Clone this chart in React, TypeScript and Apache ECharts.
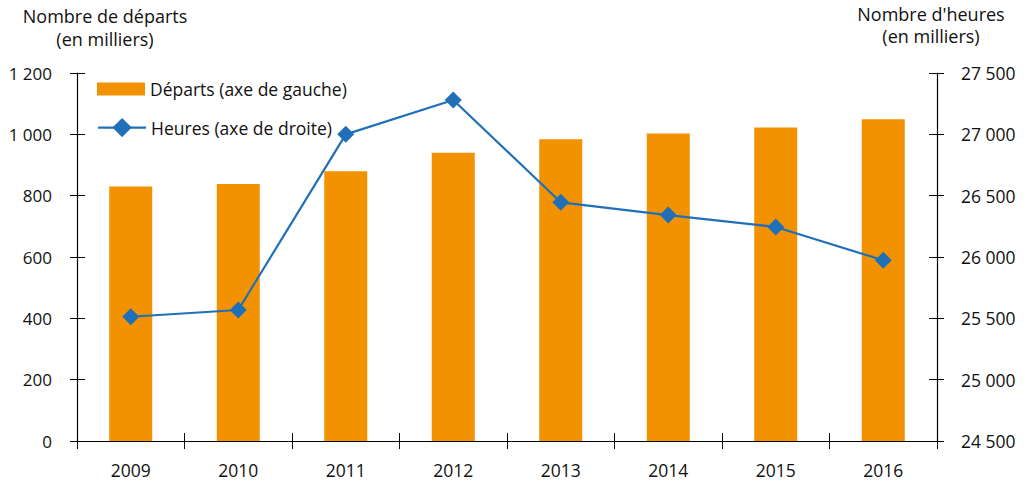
import React, { useEffect, useRef } from "react";
import * as echarts from "echarts";

const years = ["2009", "2010", "2011", "2012", "2013", "2014", "2015", "2016"];
const departs = [830, 838, 880, 940, 984, 1003, 1022, 1049];
const heures = [25513, 25568, 27000, 27280, 26446, 26342, 26245, 25973];
const leftTitle = ["Nombre de départs", "(en milliers)"];
const rightTitle = ["Nombre d'heures", "(en milliers)"];
const barName = "Départs (axe de gauche)";
const lineName = "Heures (axe de droite)";

const FONT = "'Open Sans', 'Noto Sans', sans-serif";
const fmt = (v: number) => {
  const s = String(Math.round(v));
  return s.replace(/\B(?=(\d{3})+(?!\d))/g, " ");
};

export default function App() {
  const ref = useRef<HTMLDivElement>(null);
  useEffect(() => {
    if (!ref.current) return;
    const chart = echarts.init(ref.current, undefined, { renderer: "svg" });
    const axisLine = { show: true, lineStyle: { color: "#000", width: 1.2 } };
    const grid = { left: 77, right: 93, top: 73, bottom: 43 };
    const legendText = { fontSize: 17.5, color: "#111", fontFamily: FONT };
    chart.setOption({
      animation: false,
      textStyle: { fontFamily: FONT },
      grid,
      legend: [
        {
          left: 97,
          top: 80,
          padding: 0,
          itemWidth: 48,
          itemHeight: 13,
          textStyle: legendText,
          data: [{ name: barName, icon: "rect" }],
        },
        {
          left: 97,
          top: 118,
          padding: 0,
          itemWidth: 48,
          itemHeight: 24,
          textStyle: legendText,
          lineStyle: { width: 2.2 },
          data: [{ name: lineName }],
        },
      ],
      graphic: [
        {
          type: "text",
          x: 105,
          y: 4,
          style: { text: leftTitle.join("\n"), align: "center", fontSize: 18, lineHeight: 23, fill: "#111", fontFamily: FONT },
        },
        {
          type: "text",
          x: 931,
          y: 3,
          style: { text: rightTitle.join("\n"), align: "center", fontSize: 18, lineHeight: 22, fill: "#111", fontFamily: FONT },
        },
      ],
      xAxis: [
        {
          type: "category",
          data: years,
          axisLine,
          axisTick: { show: true, length: 8, lineStyle: { color: "#000" } },
          axisLabel: { fontSize: 17.5, color: "#111", margin: 20, fontFamily: FONT },
        },
        {
          type: "category",
          data: years,
          position: "bottom",
          axisLine: { show: false },
          axisTick: { show: true, inside: true, length: 8, lineStyle: { color: "#000" } },
          axisLabel: { show: false },
        },
      ],
      yAxis: [
        {
          type: "value",
          min: 0,
          max: 1200,
          interval: 200,
          position: "left",
          axisLine,
          axisTick: { show: true, length: 7, lineStyle: { color: "#000" } },
          axisLabel: { fontSize: 17, color: "#111", margin: 25, formatter: fmt, fontFamily: FONT },
          splitLine: { show: false },
        },
        {
          type: "value",
          min: 24500,
          max: 27500,
          interval: 500,
          position: "right",
          axisLine,
          axisTick: { show: true, length: 7, lineStyle: { color: "#000" } },
          axisLabel: { fontSize: 17.5, color: "#111", margin: 24, formatter: fmt, fontFamily: FONT },
          splitLine: { show: false },
        },
        {
          type: "value",
          min: 0,
          max: 1200,
          interval: 200,
          position: "left",
          axisLine: { show: false },
          axisTick: { show: true, inside: true, length: 8, lineStyle: { color: "#000" } },
          axisLabel: { show: false },
          splitLine: { show: false },
        },
        {
          type: "value",
          min: 24500,
          max: 27500,
          interval: 500,
          position: "right",
          axisLine: { show: false },
          axisTick: { show: true, inside: true, length: 8, lineStyle: { color: "#000" } },
          axisLabel: { show: false },
          splitLine: { show: false },
        },
      ],
      series: [
        {
          name: barName,
          type: "bar",
          data: departs,
          yAxisIndex: 0,
          barWidth: "40%",
          itemStyle: { color: "#f39200" },
        },
        {
          name: lineName,
          type: "line",
          data: heures,
          yAxisIndex: 1,
          symbol: "diamond",
          symbolSize: 17,
          lineStyle: { color: "#1f70b8", width: 2.2 },
          itemStyle: { color: "#1f70b8" },
        },
      ],
    });
    return () => chart.dispose();
  }, []);
  return <div ref={ref} style={{ width: 1030, height: 484, position: "absolute", left: 0, top: 0 }} />;
}
